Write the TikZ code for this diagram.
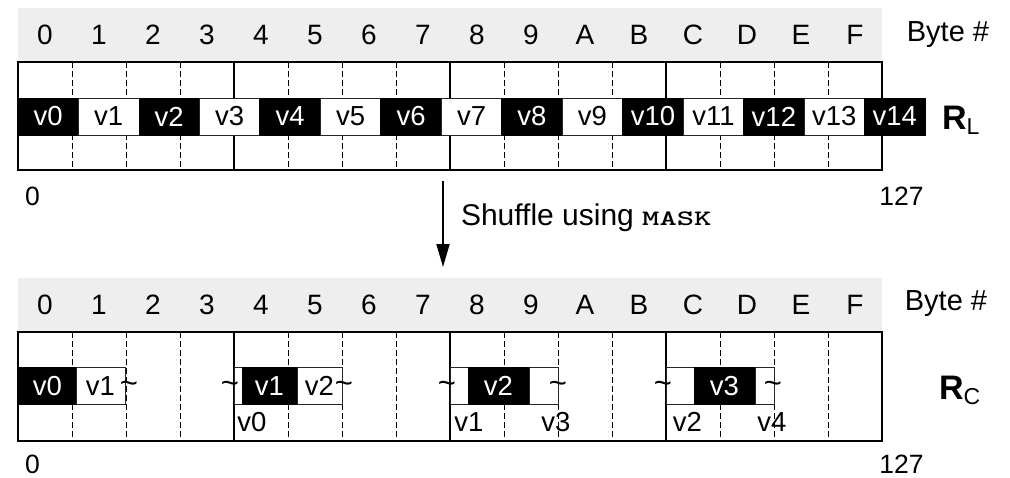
\documentclass[tikz,border=0pt]{standalone}
\usepackage{fontspec}
\setmainfont{Liberation Sans}
\usetikzlibrary{arrows.meta}
\definecolor{hdrgray}{RGB}{238,238,238}
\begin{document}
\begin{tikzpicture}[x=1pt,y=-1pt,
  every node/.style={inner sep=0pt, outer sep=0pt},
  digit/.style={font=\fontsize{28}{28}\selectfont, anchor=center},
  bytelbl/.style={font=\fontsize{29}{29}\selectfont, anchor=center},
  numlbl/.style={font=\fontsize{26.5}{26.5}\selectfont, anchor=center},
  outerbox/.style={draw=black, line width=2pt},
  quadline/.style={draw=black, line width=1.3pt},
  dashline/.style={draw=black, line width=0.9pt, dash pattern=on 6pt off 3pt},
  blkcell/.style={draw=black, line width=0.8pt, fill=black, text=white, minimum height=37pt, font=\fontsize{27.5}{27.5}\selectfont},
  whtcell/.style={draw=black!85, line width=0.8pt, fill=white, text=black, minimum height=37pt, font=\fontsize{27.5}{27.5}\selectfont},
  vlbl/.style={font=\fontsize{27.5}{27.5}\selectfont, anchor=center},
  tildelbl/.style={font=\fontsize{31}{31}\selectfont, anchor=center},
  reglbl/.style={anchor=base west},
  arrowline/.style={draw=black, line width=1.8pt, -{Triangle[length=23pt,width=13pt]}}
]
\useasboundingbox (0,0) rectangle (1010,477);

% ---------- top register R_L ----------
\fill[hdrgray] (18,8) rectangle (882,62);
\foreach \d [count=\i from 0] in {0,1,2,3,4,5,6,7,8,9,A,B,C,D,E,F}
  \node[digit] (ht\i) at (45+54*\i,35) {\d};
\node[bytelbl] (byteT) at (948,35) {Byte \#};
\foreach \k in {1,...,15}{
  \pgfmathtruncatemacro\m{mod(\k,4)}
  \ifnum\m=0
    \draw[quadline] (18+54*\k,62) -- (18+54*\k,170);
  \else
    \draw[dashline] (18+54*\k,62) -- (18+54*\k,170);
  \fi
}
\draw[outerbox] (18,62) rectangle (882,170);
\foreach \k in {0,...,14}{
  \pgfmathsetmacro\cx{18+60.47*\k+30.235}
  \ifodd\k
    \node[whtcell, minimum width=60.47pt] (rl\k) at (\cx,116.5) {v\k};
  \else
    \node[blkcell, minimum width=60.47pt] (rl\k) at (\cx,116.5) {v\k};
  \fi
}
\node[reglbl] (RL) at (942,129) {\fontsize{34}{34}\selectfont\bfseries R\raisebox{-5pt}{\fontsize{23}{23}\mdseries\selectfont L}};
\node[numlbl] (zeroT) at (32.5,196) {0};
\node[numlbl] (endT) at (901.5,196) {127};

% ---------- arrow ----------
\coordinate (aS) at (443,181);
\coordinate (aE) at (443,267);
\draw[arrowline] (aS) -- (aE);
\node[anchor=base west] (shuf) at (461,225) {\fontsize{30}{30}\selectfont Shuffle using \scalebox{1.5}[1]{\ttfamily\bfseries\fontsize{22}{22}\selectfont MASK}};

% ---------- bottom register R_C ----------
\fill[hdrgray] (18,278) rectangle (882,332);
\foreach \d [count=\i from 0] in {0,1,2,3,4,5,6,7,8,9,A,B,C,D,E,F}
  \node[digit] (hb\i) at (45+54*\i,305) {\d};
\node[bytelbl] (byteB) at (946,304) {Byte \#};
\foreach \k in {1,...,15}{
  \pgfmathtruncatemacro\m{mod(\k,4)}
  \ifnum\m=0
    \draw[quadline] (18+54*\k,332) -- (18+54*\k,441);
  \else
    \draw[dashline] (18+54*\k,332) -- (18+54*\k,441);
  \fi
}
\draw[outerbox] (18,332) rectangle (882,441);

% group 1
\node[blkcell, minimum width=59pt] (g1a) at (47.5,386) {v0};
\node[whtcell, minimum width=49pt] (g1b) at (100.5,386) {v1};
\node[tildelbl] (t1r) at (129,387) {\textasciitilde};
% group 2
\node[whtcell, minimum width=8pt] (g2a) at (238,386) {};
\node[blkcell, minimum width=55pt] (g2b) at (269.5,386) {v1};
\node[whtcell, minimum width=45pt] (g2c) at (319.5,386) {v2};
\node[tildelbl] (t2l) at (230,387) {\textasciitilde};
\node[tildelbl] (t2r) at (344,387) {\textasciitilde};
\node[vlbl] (b2) at (252,422) {v0};
% group 3
\node[whtcell, minimum width=18pt] (g3a) at (459,386) {};
\node[blkcell, minimum width=61pt] (g3b) at (498.5,386) {v2};
\node[whtcell, minimum width=29pt] (g3c) at (543.5,386) {};
\node[tildelbl] (t3l) at (447,387) {\textasciitilde};
\node[tildelbl] (t3r) at (558,387) {\textasciitilde};
\node[vlbl] (b3a) at (469,422) {v1};
\node[vlbl] (b3b) at (556,422) {v3};
% group 4
\node[whtcell, minimum width=28pt] (g4a) at (680,386) {};
\node[blkcell, minimum width=61pt] (g4b) at (724.5,386) {v3};
\node[whtcell, minimum width=19pt] (g4c) at (764.5,386) {};
\node[tildelbl] (t4l) at (663,387) {\textasciitilde};
\node[tildelbl] (t4r) at (773,387) {\textasciitilde};
\node[vlbl] (b4a) at (687.5,422) {v2};
\node[vlbl] (b4b) at (772,422) {v4};

\node[reglbl] (RC) at (939,399) {\fontsize{34}{34}\selectfont\bfseries R\raisebox{-5pt}{\fontsize{23}{23}\mdseries\selectfont C}};
\node[numlbl] (zeroB) at (32.5,464) {0};
\node[numlbl] (endB) at (901.5,464) {127};
\end{tikzpicture}
\end{document}
